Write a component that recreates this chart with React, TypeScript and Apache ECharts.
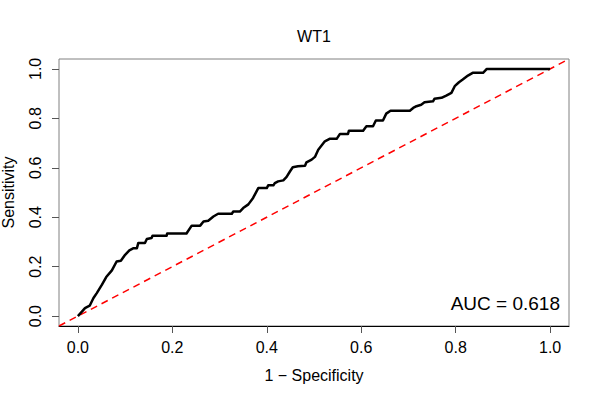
import * as echarts from "echarts";
import { useEffect, useRef } from "react";

const FONT = "'Liberation Sans', Arial, Helvetica, sans-serif";
const INK = "#000000";
const BOX = "#808080";

// ROC curve points: [1 - specificity, sensitivity]
const rocFpr = [
  0, 0.009, 0.015, 0.025, 0.033, 0.04, 0.051, 0.06, 0.072, 0.082, 0.091, 0.1, 0.109, 0.118,
  0.125, 0.128, 0.142, 0.146, 0.156, 0.158, 0.188, 0.189, 0.23, 0.241, 0.259, 0.266, 0.276,
  0.287, 0.297, 0.326, 0.329, 0.343, 0.35, 0.361, 0.371, 0.382, 0.4, 0.403, 0.414, 0.417,
  0.424, 0.435, 0.442, 0.449, 0.455, 0.466, 0.481, 0.484, 0.495, 0.502, 0.509, 0.516, 0.523,
  0.533, 0.548, 0.555, 0.572, 0.574, 0.604, 0.611, 0.625, 0.631, 0.646, 0.653, 0.662, 0.703,
  0.71, 0.717, 0.727, 0.734, 0.752, 0.755, 0.77, 0.78, 0.791, 0.798, 0.807, 0.815, 0.826,
  0.836, 0.858, 0.866, 1,
];
const rocTpr = [
  0, 0.019, 0.032, 0.042, 0.073, 0.093, 0.127, 0.158, 0.185, 0.221, 0.224, 0.248, 0.266, 0.275,
  0.275, 0.296, 0.296, 0.312, 0.316, 0.325, 0.325, 0.334, 0.334, 0.366, 0.366, 0.383, 0.386,
  0.403, 0.414, 0.414, 0.423, 0.423, 0.437, 0.452, 0.478, 0.518, 0.518, 0.529, 0.529, 0.538,
  0.545, 0.549, 0.563, 0.585, 0.602, 0.606, 0.608, 0.622, 0.633, 0.644, 0.673, 0.69, 0.707,
  0.717, 0.717, 0.737, 0.737, 0.75, 0.75, 0.768, 0.768, 0.791, 0.791, 0.819, 0.831, 0.831,
  0.842, 0.849, 0.855, 0.865, 0.869, 0.879, 0.883, 0.892, 0.903, 0.93, 0.946, 0.957, 0.973,
  0.984, 0.984, 1, 1,
];

// chance line, corner to corner of the (R-style 4% padded) plot region
const diagonal = [
  [-0.04, -0.04],
  [1.04, 1.04],
];

const TICKS = [0, 0.2, 0.4, 0.6, 0.8, 1];
const AXIS_MIN = -0.04;
const AXIS_MAX = 1.04;
const TITLE = "WT1";
const AUC_LABEL = "AUC = 0.618";

function axis(name: string, vertical: boolean) {
  return {
    type: "value",
    min: AXIS_MIN,
    max: AXIS_MAX,
    name,
    nameLocation: "middle",
    nameGap: vertical ? 43 : 41,
    nameTextStyle: { color: INK, fontSize: 16, fontFamily: FONT },
    splitLine: { show: false },
    axisLine: { show: !vertical, onZero: false, lineStyle: { color: INK, width: 1 } },
    axisTick: {
      show: true,
      length: 7,
      customValues: TICKS,
      lineStyle: { color: "#555555", width: 1 },
    },
    axisLabel: {
      customValues: TICKS,
      rotate: vertical ? 90 : 0,
      margin: vertical ? 16 : 13,
      color: INK,
      fontSize: 16,
      fontFamily: FONT,
      formatter: (v: number) => v.toFixed(1),
    },
  };
}

export default function App() {
  const ref = useRef<HTMLDivElement>(null);

  useEffect(() => {
    const el = ref.current;
    if (!el) return;
    const chart = echarts.init(el, undefined, { renderer: "svg" });
    chart.setOption({
      animation: false,
      backgroundColor: "#ffffff",
      textStyle: { fontFamily: FONT },
      title: {
        text: TITLE,
        left: 314,
        textAlign: "center",
        top: 28,
        padding: 0,
        textStyle: { color: INK, fontSize: 16, fontWeight: "normal", fontFamily: FONT },
      },
      grid: {
        left: 59,
        right: 31,
        top: 59,
        bottom: 74,
        containLabel: false,
        outerBoundsMode: "none",
        show: true,
        borderColor: BOX,
        borderWidth: 1,
        backgroundColor: "transparent",
      },
      xAxis: axis("1 \u2212 Specificity", false),
      yAxis: axis("Sensitivity", true),
      graphic: [
        {
          type: "text",
          right: 40,
          top: 294,
          style: {
            text: AUC_LABEL,
            fill: INK,
            fontSize: 19,
            fontFamily: FONT,
          },
        },
      ],
      series: [
        {
          type: "line",
          data: diagonal,
          showSymbol: false,
          silent: true,
          lineStyle: { color: "#ff0000", width: 1.5, type: [7, 5] },
          z: 2,
        },
        {
          type: "line",
          data: rocFpr.map((x, i) => [x, rocTpr[i]]),
          showSymbol: false,
          silent: true,
          lineStyle: { color: INK, width: 2.5, join: "round" },
          z: 3,
        },
      ],
    });
    return () => chart.dispose();
  }, []);

  return (
    <div
      ref={ref}
      style={{ position: "fixed", left: 0, top: 0, width: 600, height: 400 }}
    />
  );
}
